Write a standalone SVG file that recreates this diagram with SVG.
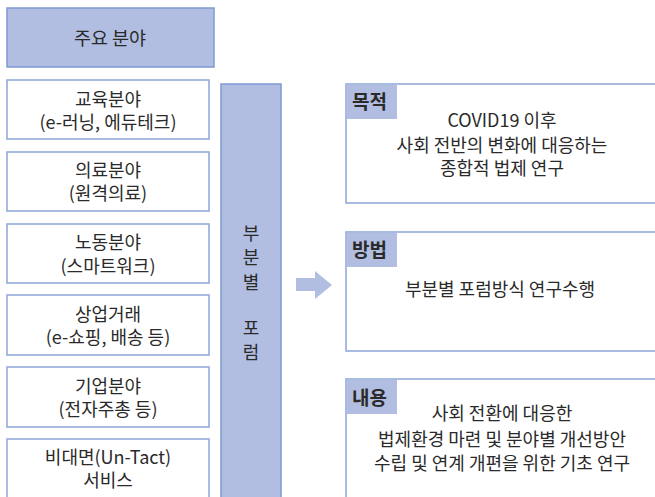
<svg xmlns="http://www.w3.org/2000/svg" width="655" height="497" viewBox="0 0 655 497">
<style>
text{font-family:"Noto Sans CJK KR","Noto Sans",sans-serif;fill:#2a2a2a;text-anchor:middle;font-size:18px}
.box{fill:#fff;stroke:#8ea5d8;stroke-width:1.5}
.blue{fill:#b1bee1;stroke:#7f99d2;stroke-width:1.5}
.tab{fill:#b1bee1}
.lbl{font-weight:bold;text-anchor:start;font-size:19px}
</style>
<rect width="655" height="497" fill="#fff"/>
<g id="header"><rect class="blue" x="7" y="8" width="207" height="59"/><text x="110" y="45" style="font-size:18.5px">주요 분야</text></g>
<g id="edu"><rect class="box" x="7" y="80" width="202" height="59"/><text x="108" y="106">교육분야</text><text x="108" y="129">(e-러닝, 에듀테크)</text></g>
<g id="med"><rect class="box" x="7" y="152" width="202" height="59"/><text x="108" y="177">의료분야</text><text x="108" y="200">(원격의료)</text></g>
<g id="labor"><rect class="box" x="7" y="224" width="202" height="59"/><text x="108" y="249">노동분야</text><text x="108" y="273">(스마트워크)</text></g>
<g id="commerce"><rect class="box" x="7" y="295" width="202" height="60"/><text x="108" y="321">상업거래</text><text x="108" y="344">(e-쇼핑, 배송 등)</text></g>
<g id="corp"><rect class="box" x="7" y="367" width="202" height="60"/><text x="108" y="393">기업분야</text><text x="108" y="416">(전자주총 등)</text></g>
<g id="untact"><rect class="box" x="7" y="439" width="202" height="70"/><text x="108" y="464">비대면(Un-Tact)</text><text x="108" y="487">서비스</text></g>
<g id="forum"><rect class="blue" x="221" y="84" width="60" height="430"/>
<text x="251" y="240">부</text><text x="251" y="264">분</text><text x="251" y="289">별</text><text x="251" y="335">포</text><text x="251" y="359">럼</text></g>
<g id="connectors"><polygon points="296,278 315,278 315,271 332,285 315,299 315,291 296,291" fill="#b1bee1"/></g>
<g id="purpose"><rect class="box" x="346" y="84" width="320" height="119" stroke="#7f99d2"/><rect class="tab" x="347" y="85" width="50" height="34"/><text class="lbl" x="352" y="109">목적</text>
<text x="502" y="127">COVID19 이후</text><text x="502" y="152">사회 전반의 변화에 대응하는</text><text x="502" y="175">종합적 법제 연구</text></g>
<g id="method"><rect class="box" x="346" y="232" width="320" height="119" stroke="#7f99d2"/><rect class="tab" x="347" y="233" width="50" height="34"/><text class="lbl" x="352" y="257">방법</text>
<text x="500" y="296">부분별 포럼방식 연구수행</text></g>
<g id="content"><rect class="box" x="346" y="379" width="320" height="130" stroke="#7f99d2"/><rect class="tab" x="347" y="380" width="50" height="34"/><text class="lbl" x="352" y="405">내용</text>
<text x="502" y="420">사회 전환에 대응한</text><text x="502" y="446">법제환경 마련 및 분야별 개선방안</text><text x="502" y="470">수립 및 연계 개편을 위한 기초 연구</text></g>
</svg>
